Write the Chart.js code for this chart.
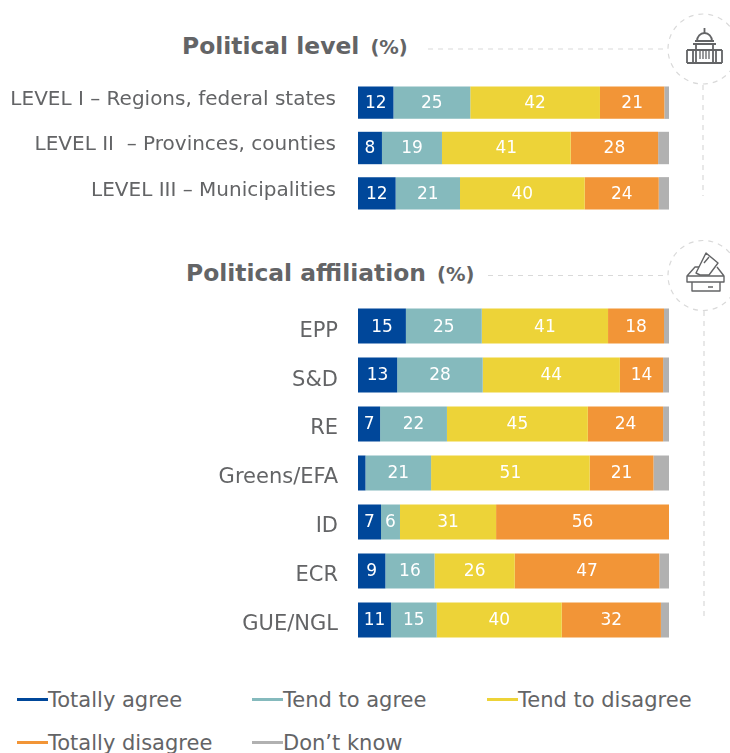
<!DOCTYPE html>
<html>
<head>
<meta charset="utf-8">
<script src="https://cdn.jsdelivr.net/npm/chart.js@4"></script>
<style>
  html, body { margin: 0; padding: 0; background: #fff; }
  body { width: 730px; height: 753px; position: relative; overflow: hidden; font-family: "DejaVu Sans", sans-serif; color: #636466; }
  canvas { position: absolute; left: 0; }
  svg { position: absolute; left: 0; top: 0; }
  .title { position: absolute; font-weight: bold; font-size: 23.4px; white-space: nowrap; line-height: 28px; }
  .title span { font-size: 19.5px; margin-left: 3px; }
  .key { position: absolute; font-size: 21px; line-height: 26px; white-space: nowrap; }
  .key i { position: absolute; left: -31px; top: 11px; width: 31px; height: 3px; }
</style>
</head>
<body>
<svg width="730" height="753" fill="none">
  <g stroke="#d9d9d9" stroke-width="1.2" stroke-dasharray="5 5">
    <line x1="428" y1="49" x2="668" y2="49"/>
    <circle cx="703" cy="49" r="35"/>
    <line x1="703" y1="85" x2="703" y2="196"/>
    <line x1="488" y1="275.5" x2="668" y2="275.5"/>
    <circle cx="703" cy="275.5" r="35"/>
    <line x1="704" y1="311" x2="704" y2="620"/>
  </g>
  <!-- capitol -->
  <g stroke="#636466" stroke-width="1.8">
    <path d="M687 63h35M687 50h35M687 50v13M722 50v13M693 50v13M716 50v13"/>
    <path d="M693 44h23M696 44v19M713 44v19M697 41a7.500 8 0 0 1 15 0M695 41h19M704.500 28v5"/>
    <path d="M700 50v9M703 50v9M706 50v9M709 50v9" stroke-width="1.300"/>
  </g>
  <!-- ballot box -->
  <g stroke="#636466" stroke-width="1.4" stroke-linejoin="round">
    <path d="M687 282v-6h37v6zM687 276l8-9h4M724 276l-7-9M692 282v9h28v-9"/>
    <path d="M706 253l12 10-9 12h-9l-4-2z" fill="#fff"/>
    <path d="M704 263l5-6M708 287h5"/>
  </g>
</svg>

<div class="title" style="left:182px;top:32px">Political level <span>(%)</span></div>
<div class="title" style="left:186px;top:259px">Political affiliation <span>(%)</span></div>

<!-- canvases are taller than the bars because the y axis keeps half a label plus its tick padding free above and below -->
<canvas id="levelChart" style="top:46px"></canvas>
<canvas id="groupChart" style="top:269px"></canvas>
<div id="legend"></div>

<script>
var seriesNames = ['Totally agree', 'Tend to agree', 'Tend to disagree', 'Totally disagree', 'Don\u2019t know'];
var seriesColors = ['#00479A', '#85BABD', '#EDD338', '#F29537', '#B1B1B1'];

var levelLabels = ['LEVEL I \u2013 Regions, federal states', 'LEVEL II  \u2013 Provinces, counties', 'LEVEL III \u2013 Municipalities'];
var levelAgree = [11.4, 7.7, 12.1];
var levelTendAgree = [24.7, 19.3, 20.7];
var levelTendDisagree = [41.7, 41.4, 40.1];
var levelDisagree = [20.7, 28.1, 23.8];
var levelDontKnow = [1.5, 3.5, 3.3];
// numbers printed on the bars, they are rounded differently from the bar lengths
var levelPrinted = [
  [12, 8, 12],
  [25, 19, 21],
  [42, 41, 40],
  [21, 28, 24],
  [null, null, null]
];

var groupLabels = ['EPP', 'S&D', 'RE', 'Greens/EFA', 'ID', 'ECR', 'GUE/NGL'];
var groupAgree = [15.4, 12.6, 7.1, 2.4, 7.4, 8.8, 10.6];
var groupTendAgree = [24.4, 27.5, 21.5, 21.1, 6.1, 15.8, 14.7];
var groupTendDisagree = [40.6, 44.1, 45.3, 51.0, 30.9, 25.8, 40.2];
var groupDisagree = [18.0, 13.9, 24.2, 20.5, 55.6, 46.5, 31.9];
var groupDontKnow = [1.6, 1.9, 1.9, 5.0, 0, 3.1, 2.6];
var groupPrinted = [
  [15, 13, 7, null, 7, 9, 11],
  [25, 28, 22, 21, 6, 16, 15],
  [41, 44, 45, 51, 31, 26, 40],
  [18, 14, 24, 21, 56, 47, 32],
  [null, null, null, null, null, null, null]
];

var barLabels = {
  id: 'barLabels',
  afterDatasetsDraw: function(chart, args, opts) {
    var ctx = chart.ctx;
    ctx.save();
    ctx.fillStyle = '#fff';
    ctx.font = '17px "DejaVu Sans"';
    ctx.textAlign = 'center';
    ctx.textBaseline = 'middle';
    chart.data.datasets.forEach(function(ds, i) {
      chart.getDatasetMeta(i).data.forEach(function(bar, j) {
        if (opts.printed[i][j] != null) {
          ctx.fillText(opts.printed[i][j], (bar.x + bar.base) / 2, bar.y + 1);
        }
      });
    });
    ctx.restore();
  }
};

function makeBars(id, height, labels, rows, printed, labelShift, labelGap, labelSize) {
  var canvas = document.getElementById(id);
  canvas.width = 730;
  canvas.height = height;
  canvas.style.width = '730px';
  canvas.style.height = height + 'px';
  return new Chart(canvas, {
    type: 'bar',
    plugins: [barLabels],
    data: {
      labels: labels,
      datasets: rows.map(function(values, i) {
        return {
          label: seriesNames[i],
          data: values,
          backgroundColor: seriesColors[i],
          borderWidth: 0,
          barPercentage: 0.715,
          categoryPercentage: 1
        };
      })
    },
    options: {
      indexAxis: 'y',
      responsive: false,
      animation: false,
      layout: { padding: { right: 61 }, autoPadding: false },
      plugins: {
        legend: { display: false },
        tooltip: { enabled: false },
        barLabels: { printed: printed }
      },
      scales: {
        x: { stacked: true, min: 0, max: 100, display: false },
        y: {
          stacked: true,
          afterFit: function(axis) { axis.width = 358; },
          grid: { display: false, drawTicks: false },
          border: { display: false },
          ticks: {
            color: '#636466',
            font: { family: '"DejaVu Sans"', size: labelSize },
            padding: labelGap,
            autoSkip: false,
            labelOffset: labelShift
          }
        }
      }
    }
  });
}

makeBars('levelChart', 204, levelLabels,
  [levelAgree, levelTendAgree, levelTendDisagree, levelDisagree, levelDontKnow], levelPrinted, -3, 22, 20);
makeBars('groupChart', 408, groupLabels,
  [groupAgree, groupTendAgree, groupTendDisagree, groupDisagree, groupDontKnow], groupPrinted, 5, 20, 21);

// legend sits in three columns and wraps after the third
var legend = document.getElementById('legend');
seriesNames.forEach(function(name, i) {
  var key = document.createElement('div');
  key.className = 'key';
  key.style.left = (48 + (i % 3) * 235) + 'px';
  key.style.top = (687 + Math.floor(i / 3) * 43) + 'px';
  key.textContent = name;
  var swatch = document.createElement('i');
  swatch.style.background = seriesColors[i];
  key.appendChild(swatch);
  legend.appendChild(key);
});
</script>
</body>
</html>
